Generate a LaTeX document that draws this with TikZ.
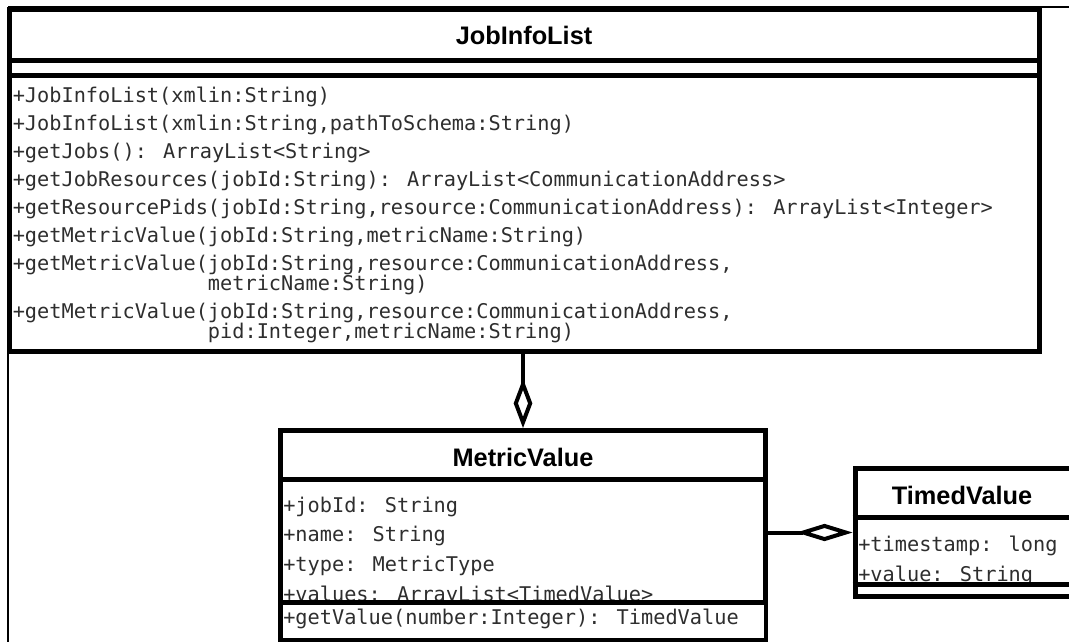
\documentclass[tikz,border=0pt]{standalone}
\usepackage{fontspec}
\setmainfont{Liberation Sans}
\newfontfamily\umlmono{DejaVu Sans Mono}
\usetikzlibrary{fit,arrows.meta}

\tikzset{
  classbox/.style={draw=black, line width=3.75pt, fill=white, inner sep=0pt},
  divider/.style={line width=3.75pt},
  member/.style={anchor=base west, inner sep=0pt,
    font=\umlmono\fontsize{15.2}{18}\selectfont, text=black!82},
  classname/.style={anchor=center, inner sep=0pt,
    font=\bfseries\fontsize{19}{22}\selectfont},
  frameline/.style={line width=1.5pt},
  aggrV/.style={line width=3pt, -{Diamond[open, length=37pt, width=14pt]}},
  aggrH/.style={line width=3pt, -{Diamond[open, length=42pt, width=13pt]}}
}

\begin{document}
\begin{tikzpicture}[x=0.75pt, y=-0.75pt]
\useasboundingbox (0,0) rectangle (1069,642);
\clip (0,0) rectangle (1069,642);

% outer frame lines
\draw[frameline] (8,7.5) -- (1069,7.5);
\draw[frameline] (8,7.5) -- (8,642);

% class boxes
\coordinate (jil-nw) at (9.5,9.5);
\coordinate (jil-se) at (1039,351);
\node[classbox, fit=(jil-nw)(jil-se)] (jil) {};

\coordinate (mv-nw) at (280.5,430.5);
\coordinate (mv-se) at (765.5,639.5);
\node[classbox, fit=(mv-nw)(mv-se)] (mv) {};

\coordinate (tv-nw) at (855,468.5);
\coordinate (tv-se) at (1090,596.5);
\node[classbox, fit=(tv-nw)(tv-se)] (tv) {};

% JobInfoList
\node[classname] (jil-name) at (524,35) {JobInfoList};
\node[member] (jil-m1) at (12.5,102) {+JobInfoList(xmlin:String)};
\node[member] (jil-m2) at (12.5,130) {+JobInfoList(xmlin:String,pathToSchema:String)};
\node[member] (jil-m3) at (12.5,158) {+getJobs(): ArrayList<String>};
\node[member] (jil-m4) at (12.5,186) {+getJobResources(jobId:String): ArrayList<CommunicationAddress>};
\node[member] (jil-m5) at (12.5,214) {+getResourcePids(jobId:String,resource:CommunicationAddress): ArrayList<Integer>};
\node[member] (jil-m6) at (12.5,242) {+getMetricValue(jobId:String,metricName:String)};
\node[member] (jil-m7) at (12.5,270) {+getMetricValue(jobId:String,resource:CommunicationAddress,};
\node[member] (jil-m7b) at (12.5,290) {\hphantom{+getMetricValue(}metricName:String)};
\node[member] (jil-m8) at (12.5,318) {+getMetricValue(jobId:String,resource:CommunicationAddress,};
\node[member] (jil-m8b) at (12.5,338) {\hphantom{+getMetricValue(}pid:Integer,metricName:String)};
\draw[divider] (jil.west |- 0,60.5) -- (jil.east |- 0,60.5);
\draw[divider] (jil.west |- 0,75.5) -- (jil.east |- 0,75.5);

% MetricValue
\node[classname] (mv-name) at (523,457) {MetricValue};
\node[member] (mv-a1) at (283,512) {+jobId: String};
\node[member] (mv-a2) at (283,541) {+name: String};
\node[member] (mv-a3) at (283,571) {+type: MetricType};
\node[member] (mv-a4) at (283,601) {+values: ArrayList<TimedValue>};
\fill[white] (282.5,604.5) rectangle (763.5,637.5);
\node[member] (mv-m1) at (283,624) {+getValue(number:Integer): TimedValue};
\draw[divider] (mv.west |- 0,479.5) -- (mv.east |- 0,479.5);
\draw[divider] (mv.west |- 0,602.5) -- (mv.east |- 0,602.5);

% TimedValue
\node[classname] (tv-name) at (962,495) {TimedValue};
\node[member] (tv-a1) at (858,551) {+timestamp: long};
\node[member] (tv-a2) at (858,581.5) {+value: String};
\draw[divider] (tv.west |- 0,517) -- (tv.east |- 0,517);
\draw[divider] (tv.west |- 0,584) -- (tv.east |- 0,584);

% aggregations
\draw[aggrV] (mv.north |- jil.south) -- (mv.north);
\draw[aggrH] (mv.east |- tv.west) -- (tv.west);
\end{tikzpicture}
\end{document}
